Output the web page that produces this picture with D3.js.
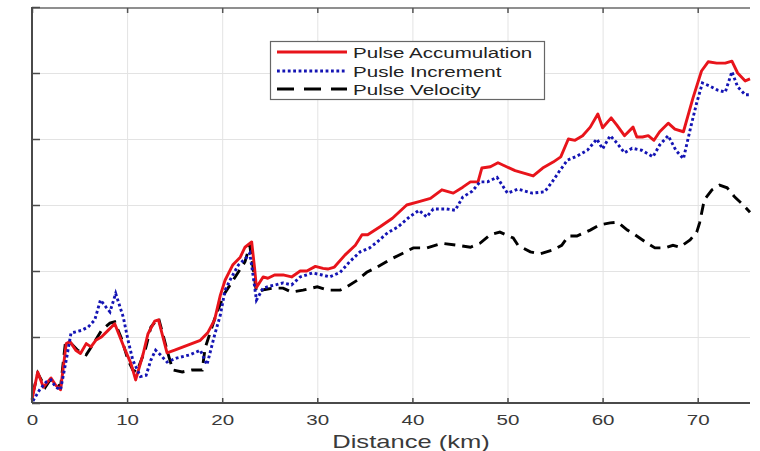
<!DOCTYPE html>
<html>
<head>
<meta charset="utf-8">
<script src="https://cdn.jsdelivr.net/npm/d3@7"></script>
<style>
  html, body { margin: 0; padding: 0; background: #fff; }
  svg { display: block; font-family: "Liberation Sans", Arial, Helvetica, sans-serif; }
</style>
</head>
<body>
<svg id="chart" width="760" height="451"></svg>
<script>
// ---------------- data ----------------
const xTicks = [0, 10, 20, 30, 40, 50, 60, 70];
const yTicks = [0, 1, 2, 3, 4, 5, 6];
const xLabel = "Distance (km)";
const seriesNames = ["Pulse Accumulation", "Pusle Increment", "Pulse Velocity"];

const accDist = [0,0.6,1.2,2.0,2.5,3.0,3.6,4.0,4.6,5.1,5.7,6.2,6.7,7.3,8.0,8.7,9.8,10.4,10.9,11.7,12.2,12.9,13.3,14.2,15.0,15.9,16.8,17.7,18.5,19.2,19.8,20.3,21.1,21.9,22.4,23.1,23.4,23.6,24.3,24.8,25.5,26.4,27.3,28.2,28.9,29.8,30.6,31.1,31.8,32.9,34.0,34.7,35.3,36.6,37.9,39.4,40.7,41.9,43.1,44.3,45.3,46.1,46.9,47.3,48.2,49.0,49.9,50.8,51.8,52.7,53.7,54.8,55.6,56.4,57.1,57.9,58.7,59.5,60.0,60.9,61.5,62.3,63.2,63.6,64.2,64.8,65.4,66.0,66.9,67.6,68.5,69.5,70.4,71.1,72.0,72.9,73.6,74.2,75.0,75.5];
const accVal  = [0.05,0.47,0.24,0.38,0.27,0.2,0.9,0.93,0.8,0.75,0.9,0.85,0.95,1.0,1.1,1.2,0.8,0.6,0.35,0.75,1.05,1.24,1.26,0.76,0.8,0.85,0.9,0.95,1.07,1.26,1.63,1.86,2.09,2.21,2.36,2.44,2.05,1.75,1.91,1.89,1.94,1.94,1.91,2.0,2.0,2.07,2.04,2.03,2.06,2.24,2.39,2.55,2.55,2.67,2.8,3.0,3.05,3.1,3.23,3.18,3.27,3.35,3.35,3.56,3.58,3.64,3.58,3.52,3.48,3.44,3.56,3.65,3.73,4.0,3.98,4.05,4.18,4.38,4.17,4.32,4.21,4.05,4.18,4.03,4.03,4.05,3.98,4.11,4.24,4.15,4.11,4.62,5.03,5.17,5.15,5.15,5.18,5.0,4.88,4.91];

const incDist = [0.1,0.8,1.5,2.0,2.5,3.0,3.6,4.1,5.2,5.9,6.6,7.2,7.8,8.2,8.8,9.6,10.1,10.6,11.4,12.0,12.5,13.0,13.5,14.2,15.2,16.6,17.7,18.4,19.2,19.8,20.3,21.0,21.7,22.6,22.9,23.2,23.6,24.3,25.0,25.9,26.4,27.3,28.2,29.5,30.5,31.3,32.4,33.4,34.5,35.5,36.3,37.4,38.5,39.7,40.7,41.5,42.2,43.6,44.5,45.3,46.3,47.1,47.9,48.9,50.0,51.1,52.6,53.9,54.7,55.4,56.3,57.3,58.4,59.4,60.0,60.8,61.5,62.3,63.1,64.1,65.3,66.0,66.9,67.7,68.5,69.3,69.9,70.5,71.3,72.1,72.9,73.6,74.2,75.0,75.5];
const incVal  = [0.03,0.2,0.32,0.35,0.24,0.2,0.65,1.06,1.1,1.15,1.26,1.56,1.45,1.38,1.66,1.3,0.95,0.65,0.4,0.42,0.65,0.8,0.73,0.62,0.68,0.73,0.8,0.58,1.03,1.33,1.71,1.91,2.09,2.21,2.27,1.98,1.56,1.74,1.77,1.8,1.82,1.79,1.91,1.97,1.94,1.91,1.98,2.14,2.29,2.35,2.44,2.58,2.67,2.82,2.92,2.82,2.94,2.94,2.92,3.12,3.21,3.35,3.35,3.42,3.18,3.24,3.18,3.2,3.35,3.5,3.68,3.74,3.83,4.0,3.85,4.05,3.94,3.79,3.86,3.83,3.73,3.91,4.05,3.83,3.7,4.2,4.55,4.85,4.8,4.74,4.71,5.02,4.79,4.67,4.67];

const velDist = [0.1,0.6,1.4,1.9,2.5,3.0,3.5,4.0,4.8,5.7,6.6,7.3,8.2,8.7,9.4,10.1,10.6,11.0,11.9,12.5,13.3,14.2,14.8,15.8,16.8,17.9,18.2,19.4,20.3,21.5,22.4,22.9,23.3,23.6,24.5,25.3,26.4,27.3,28.5,30.0,31.1,32.4,33.1,34.2,35.2,36.3,37.6,39.0,40.1,41.5,43.1,44.7,46.1,47.1,48.2,49.2,50.6,51.1,52.4,53.4,54.8,55.7,56.4,57.3,58.7,59.7,60.8,61.6,62.6,63.4,64.7,65.5,66.6,67.4,68.1,69.2,69.9,70.2,70.7,71.5,72.3,73.1,73.9,74.8,75.5];
const velVal  = [0.15,0.45,0.24,0.35,0.3,0.24,0.9,0.92,0.8,0.73,0.93,1.1,1.21,1.23,0.98,0.65,0.5,0.47,0.8,1.15,1.29,0.8,0.5,0.47,0.5,0.5,0.83,1.36,1.67,1.94,2.14,2.39,2.0,1.68,1.72,1.74,1.74,1.68,1.71,1.76,1.71,1.71,1.76,1.86,1.98,2.06,2.17,2.27,2.35,2.35,2.42,2.39,2.36,2.42,2.55,2.59,2.5,2.39,2.29,2.26,2.32,2.39,2.53,2.53,2.62,2.7,2.73,2.74,2.62,2.55,2.42,2.35,2.35,2.39,2.36,2.47,2.59,2.73,3.08,3.23,3.3,3.26,3.12,3.0,2.89];

const seriesColors = ["#e8141b", "#1414b4", "#000000"];

// ---------------- layout ----------------
const svg = d3.select("#chart");
const L = 32, R = 750, T = 7, B = 403;
const x = d3.scaleLinear().domain([0, 75.5]).range([L, R]);
const y = d3.scaleLinear().domain([0, 6]).range([B, T]);
const textColor = "#3a3a3a";
const stretch = 1.42;
const lw = 2.9;

// grid
const gx = svg.append("g").attr("transform", `translate(0,${B})`)
  .call(d3.axisBottom(x).tickValues(xTicks.filter(d => d > 0)).tickSize(-(B - T)).tickFormat(""));
gx.selectAll("line").attr("stroke", "#e3e3e3").attr("stroke-width", 1);
gx.select(".domain").remove();
const gy = svg.append("g").attr("transform", `translate(${L},0)`)
  .call(d3.axisLeft(y).tickValues(yTicks.filter(d => d > 0 && d < 6)).tickSize(-(R - L)).tickFormat(""));
gy.selectAll("line").attr("stroke", "#e3e3e3").attr("stroke-width", 1);
gy.select(".domain").remove();

// top border with inward ticks
const gTop = svg.append("g").attr("transform", `translate(0,${T + 1})`)
  .call(d3.axisTop(x).tickValues(xTicks).tickSize(-5).tickFormat(""));
gTop.select(".domain").attr("stroke", "#6a6a6a").attr("stroke-width", 1.6).attr("d", `M${L},0H${R}`);
gTop.selectAll(".tick line").attr("stroke", "#555").attr("stroke-width", 1.5);

// lines
const line = d3.line().x(d => x(d[0])).y(d => y(d[1]));
const mk = (xs, vs) => xs.map((d, i) => [d, vs[i]]);
const plotG = svg.append("g");
plotG.append("path").datum(mk(velDist, velVal)).attr("d", line)
  .attr("fill", "none").attr("stroke", seriesColors[2]).attr("stroke-width", lw)
  .attr("stroke-dasharray", "11,7");
plotG.append("path").datum(mk(accDist, accVal)).attr("d", line)
  .attr("fill", "none").attr("stroke", seriesColors[0]).attr("stroke-width", lw)
  .attr("stroke-linejoin", "round");
plotG.append("path").datum(mk(incDist, incVal)).attr("d", line)
  .attr("fill", "none").attr("stroke", seriesColors[1]).attr("stroke-width", lw)
  .attr("stroke-dasharray", "2.8,2.6");

// bottom axis
const gB = svg.append("g").attr("transform", `translate(0,${B})`)
  .call(d3.axisBottom(x).tickValues(xTicks).tickSize(-5).tickPadding(12));
gB.select(".domain").attr("stroke", "#4a4a4a").attr("stroke-width", 2).attr("d", `M${L},0H${R}`);
gB.selectAll(".tick line").attr("stroke", "#4a4a4a").attr("stroke-width", 1.5);
gB.selectAll(".tick text")
  .attr("fill", textColor).attr("font-size", 14.5).attr("font-family", "Liberation Sans, Arial, sans-serif")
  .attr("dy", null).attr("y", 22)
  .attr("transform", `scale(${stretch},1)`);

// left axis
const gL = svg.append("g").attr("transform", `translate(${L},0)`)
  .call(d3.axisLeft(y).tickValues(yTicks).tickSize(-8).tickFormat(""));
gL.select(".domain").attr("stroke", "#4a4a4a").attr("stroke-width", 2).attr("d", `M0,${T}V${B}`);
gL.selectAll(".tick line").attr("stroke", "#4a4a4a").attr("stroke-width", 1.5);

// axis label
svg.append("text")
  .attr("transform", `translate(411,448) scale(${stretch},1)`)
  .attr("text-anchor", "middle").attr("font-size", 18).attr("fill", textColor)
  .text(xLabel);

// legend
const lg = svg.append("g");
lg.append("rect").attr("x", 270.5).attr("y", 41.5).attr("width", 274).attr("height", 58)
  .attr("fill", "#fff").attr("stroke", "#666").attr("stroke-width", 1.2);
const rowsY = [52, 71, 89];
const dashes = [null, "2.8,2.6", "17,10"];
seriesNames.forEach((name, i) => {
  const ly = rowsY[i];
  lg.append("line").attr("x1", 277).attr("x2", 347).attr("y1", ly).attr("y2", ly)
    .attr("stroke", seriesColors[i]).attr("stroke-width", lw)
    .attr("stroke-dasharray", dashes[i]);
  lg.append("text").attr("transform", `translate(353,${ly + 5.5}) scale(1.37,1)`)
    .attr("font-size", 15).attr("fill", "#222").text(name);
});
</script>
</body>
</html>
